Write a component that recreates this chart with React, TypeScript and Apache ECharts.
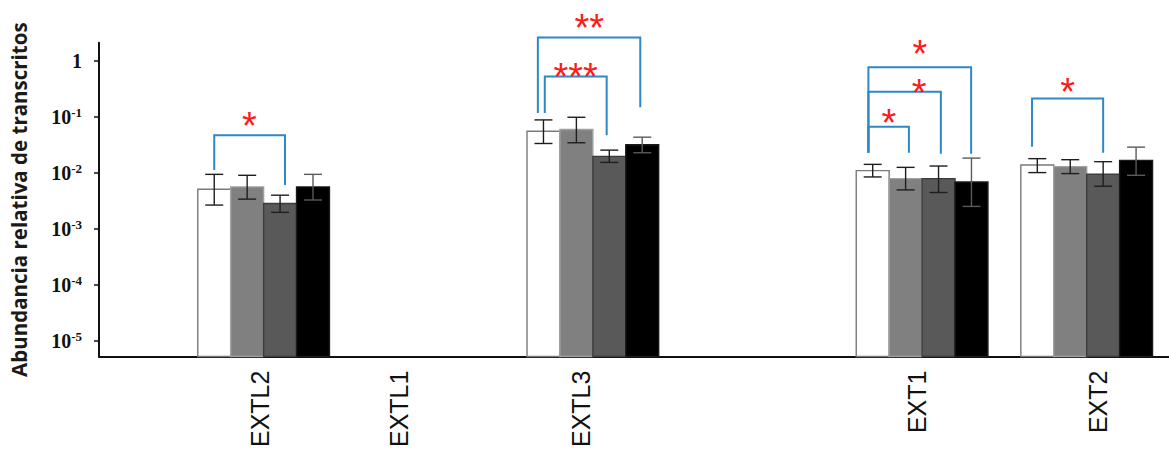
import React, { useEffect, useRef } from "react";
import * as echarts from "echarts";

// ---------- data ----------
const categories = ["EXTL2", "EXTL1", "EXTL3", "EXT1", "EXT2"];
// where each category label sits on the x scale
const categoryLabelX = [0.98, 1.82, 2.93, 4.97, 6.07];
// centre of each bar group on the x scale (EXTL1 has no bars)
const groupX = [1, null, 3, 5, 6];

const conditions = ["Condición 1", "Condición 2", "Condición 3", "Condición 4"];

// mean relative abundance per condition (one value per category)
const meanC1 = [5.05e-3, null, 0.0548, 0.01084, 0.01365];
const meanC2 = [5.55e-3, null, 0.0588, 7.8e-3, 0.01277];
const meanC3 = [2.81e-3, null, 0.0195, 7.8e-3, 9.33e-3];
const meanC4 = [5.55e-3, null, 0.0314, 6.8e-3, 0.01655];

// error bar limits
const lowC1 = [2.63e-3, null, 0.0331, 8.36e-3, 0.01];
const highC1 = [9.3e-3, null, 0.0873, 0.01403, 0.01774];
const lowC2 = [3.36e-3, null, 0.0341, 4.91e-3, 9.6e-3];
const highC2 = [8.95e-3, null, 0.0973, 0.0124, 0.017];
const lowC3 = [1.95e-3, null, 0.0152, 4.41e-3, 5.71e-3];
const highC3 = [3.95e-3, null, 0.0252, 0.0131, 0.01567];
const lowC4 = [3.24e-3, null, 0.0226, 2.49e-3, 8.95e-3];
const highC4 = [9.3e-3, null, 0.0429, 0.01816, 0.0285];

// y ticks
const yTickValues = [1e-5, 1e-4, 1e-3, 1e-2, 1e-1, 1];

// significance brackets: category, from/to (bar slot index), top, left end, right end, label, label slot, label height
const bracketCategory = [0, 2, 2, 3, 3, 3, 4];
const bracketFrom = [0, -0.17, 0.04, -0.13, -0.13, -0.13, -0.16];
const bracketTo = [2.15, 2.94, 1.92, 2.99, 2.07, 1.1, 2.0];
const bracketTop = [0.0466, 2.6, 0.52, 0.762, 0.278, 0.0656, 0.2113];
const bracketLeftEnd = [0.0111, 0.1164, 0.1164, 0.0226, 0.0226, 0.0226, 0.029];
const bracketRightEnd = [6.03e-3, 0.1462, 0.0466, 0.0217, 0.0217, 0.0226, 0.0226];
const bracketLabel = ["*", "**", "***", "*", "*", "*", "*"];
const bracketLabelSlot = [1.07, 1.39, 0.98, 1.43, 1.41, 0.49, 0.92];
const bracketLabelY = [0.0989, 5.43, 0.733, 1.9, 0.385, 0.113, 0.406];

// ---------- styling / layout constants ----------
const Y_MIN = Math.pow(10, -5.286);
const Y_MAX = Math.pow(10, 0.32);
const BAR_W = 0.2; // bar width in x-axis units
const barFill = ["#ffffff", "#808080", "#595959", "#000000"];
const barStroke = ["#7a7a7a", "#a0a0a0", "#3c3c3c", "#1a1a1a"];
const errColor = ["#1e1e1e", "#1e1e1e", "#1e1e1e", "#5a5a5a"];
const BRACKET_COLOR = "#2e88c6";

const means = [meanC1, meanC2, meanC3, meanC4];
const lows = [lowC1, lowC2, lowC3, lowC4];
const highs = [highC1, highC2, highC3, highC4];

const slotX = (cat: number, slot: number) => (groupX[cat] as number) + (slot - 1.5) * BAR_W;

export default function App() {
  const ref = useRef<HTMLDivElement>(null);

  useEffect(() => {
    if (!ref.current) return;
    const chart = echarts.init(ref.current, null, { renderer: "svg" });

    const barSeries = conditions.map((name, j) => {
      const data: any[] = [];
      categories.forEach((_, i) => {
        if (groupX[i] != null && means[j][i] != null) data.push([slotX(i, j), means[j][i]]);
      });
      return {
        type: "custom",
        name,
        data,
        clip: false,
        renderItem: (params: any, api: any) => {
          const x = api.value(0);
          const p0 = api.coord([x - BAR_W / 2, api.value(1)]);
          const p1 = api.coord([x + BAR_W / 2, Y_MIN]);
          return {
            type: "rect",
            shape: { x: p0[0], y: p0[1], width: p1[0] - p0[0], height: p1[1] - p0[1] },
            style: { fill: barFill[j], stroke: barStroke[j], lineWidth: 1.4 },
          };
        },
      };
    });

    const errSeries = conditions.map((name, j) => {
      const data: any[] = [];
      categories.forEach((_, i) => {
        if (groupX[i] != null && lows[j][i] != null) data.push([slotX(i, j), lows[j][i], highs[j][i]]);
      });
      return {
        type: "custom",
        name: name + " error",
        data,
        clip: false,
        z: 5,
        renderItem: (params: any, api: any) => {
          const x = api.value(0);
          const lo = api.coord([x, api.value(1)]);
          const hi = api.coord([x, api.value(2)]);
          const cap = 9;
          const st = { stroke: errColor[j], lineWidth: 1.4 };
          return {
            type: "group",
            children: [
              { type: "line", shape: { x1: lo[0], y1: lo[1], x2: hi[0], y2: hi[1] }, style: st },
              { type: "line", shape: { x1: lo[0] - cap, y1: lo[1], x2: lo[0] + cap, y2: lo[1] }, style: st },
              { type: "line", shape: { x1: hi[0] - cap, y1: hi[1], x2: hi[0] + cap, y2: hi[1] }, style: st },
            ],
          };
        },
      };
    });

    const bracketData = bracketCategory.map((c, k) => [
      slotX(c, bracketFrom[k]),
      slotX(c, bracketTo[k]),
      bracketTop[k],
      bracketLeftEnd[k],
      bracketRightEnd[k],
    ]);
    const bracketSeries = {
      type: "custom",
      name: "brackets",
      data: bracketData,
      clip: false,
      z: 6,
      renderItem: (params: any, api: any) => {
        const a = api.coord([api.value(0), api.value(3)]);
        const b = api.coord([api.value(0), api.value(2)]);
        const c = api.coord([api.value(1), api.value(2)]);
        const d = api.coord([api.value(1), api.value(4)]);
        return {
          type: "polyline",
          shape: { points: [a, b, c, d] },
          style: { stroke: BRACKET_COLOR, lineWidth: 2, fill: "none" },
        };
      },
    };

    const labelData = bracketCategory.map((c, k) => [slotX(c, bracketLabelSlot[k]), bracketLabelY[k], k]);
    const labelSeries = {
      type: "custom",
      name: "significance",
      data: labelData,
      clip: false,
      z: 7,
      renderItem: (params: any, api: any) => {
        const p = api.coord([api.value(0), api.value(1)]);
        return {
          type: "text",
          x: p[0],
          y: p[1] + 9,
          style: {
            text: bracketLabel[api.value(2)],
            fill: "#ff1a1a",
            font: "38px 'Liberation Sans', Arial, sans-serif",
            lineHeight: 26,
            align: "center",
            verticalAlign: "middle",
          },
        };
      },
    };

    chart.setOption({
      animation: false,
      backgroundColor: "#ffffff",
      grid: { left: 99, right: 0, top: 42.7, bottom: 91.7, containLabel: false },
      xAxis: {
        type: "value",
        min: 0,
        max: 6.5,
        splitLine: { show: false },
        axisTick: { show: false },
        axisLine: { show: true, lineStyle: { color: "#111", width: 2 } },
        axisLabel: {
          customValues: categoryLabelX,
          formatter: (v: number) => {
            const idx = categoryLabelX.findIndex((p) => Math.abs(p - v) < 1e-6);
            return idx >= 0 ? categories[idx] : "";
          },
          rotate: 90,
          margin: 14,
          fontFamily: "'Liberation Sans', Arial, sans-serif",
          fontSize: 25,
          color: "#111",
        },
      },
      yAxis: {
        type: "log",
        logBase: 10,
        min: Y_MIN,
        max: Y_MAX,
        name: "Abundancia relativa de transcritos",
        nameLocation: "middle",
        nameRotate: 90,
        nameGap: 70,
        nameTextStyle: {
          fontFamily: "'Open Sans', sans-serif",
          fontWeight: "bold",
          fontSize: 20.5,
          color: "#1a1a1a",
        },
        splitLine: { show: false },
        axisLine: { show: true, lineStyle: { color: "#111", width: 2 } },
        axisTick: {
          show: true,
          inside: false,
          length: 5,
          customValues: yTickValues,
          lineStyle: { color: "#111", width: 1.5 },
        },
        axisLabel: {
          customValues: yTickValues,
          margin: 17,
          formatter: (v: number) => {
            const e = Math.round(Math.log10(v));
            return e === 0 ? "{b|1}" : "{b|10}{s|" + e + "}";
          },
          rich: {
            b: {
              fontFamily: "'Liberation Serif', 'Times New Roman', serif",
              fontWeight: "bold",
              fontSize: 20,
              color: "#111",
              lineHeight: 22,
            },
            s: {
              fontFamily: "'Liberation Serif', 'Times New Roman', serif",
              fontWeight: "bold",
              fontSize: 13,
              color: "#111",
              verticalAlign: "top",
              lineHeight: 22,
              padding: [0, 0, 8, 0],
            },
          },
        },
      },
      series: [...barSeries, ...errSeries, bracketSeries, labelSeries],
    });

    return () => chart.dispose();
  }, []);

  return (
    <div
      ref={ref}
      style={{ position: "fixed", left: 0, top: 0, width: 1169, height: 450, background: "#fff" }}
    />
  );
}
